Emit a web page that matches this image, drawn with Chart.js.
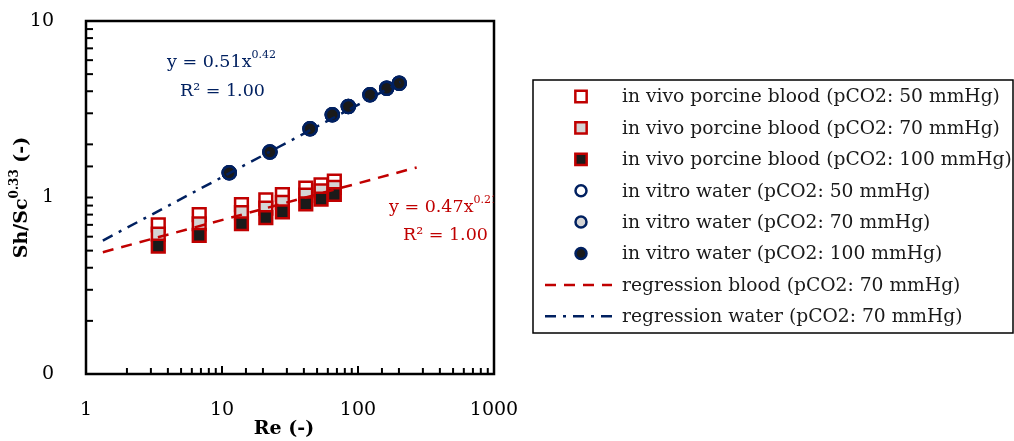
<!DOCTYPE html>
<html>
<head>
<meta charset="utf-8">
<script src="https://cdn.jsdelivr.net/npm/chart.js@4.4.1/dist/chart.umd.min.js"></script>
<style>
  html, body { margin: 0; padding: 0; background: #fff; }
  #wrap { width: 1014px; height: 441px; position: relative; }
</style>
</head>
<body>
<div id="wrap"><canvas id="chart"></canvas></div>
<script>
// Re (-) of the blood measurements
const bloodRe = [3.4, 6.8, 13.9, 21.0, 27.8, 41.3, 53.5, 67.0];
// Sh/Sc^0.33 for each pCO2
const blood50 = [0.70, 0.80, 0.91, 0.97, 1.04, 1.13, 1.18, 1.24];
const blood70 = [0.62, 0.71, 0.82, 0.87, 0.94, 1.03, 1.09, 1.14];
const blood100 = [0.53, 0.61, 0.71, 0.77, 0.83, 0.92, 0.98, 1.04];

// water measurements (the three pCO2 series overlap)
const waterRe = [11.3, 22.5, 44.4, 64.7, 84.9, 122.5, 162.5, 201];
const water50 = [1.38, 1.81, 2.45, 2.94, 3.28, 3.82, 4.16, 4.44];
const water70 = [1.38, 1.81, 2.45, 2.94, 3.28, 3.82, 4.16, 4.44];
const water100 = [1.38, 1.81, 2.45, 2.94, 3.28, 3.82, 4.16, 4.44];

// trend lines (end points)
const regBloodRe = [1.33, 270];
const regBloodY = [0.49, 1.48];
const regWaterRe = [1.33, 205];
const regWaterY = [0.57, 4.5];

// tick labels
const xTicks = [1, 10, 100, 1000];
const xTickText = ['1', '10', '100', '1000'];
const yTicks = [0.1, 1, 10];
const yTickText = ['0', '1', '10'];

const legendLabels = [
  'in vivo porcine blood (pCO2: 50 mmHg)',
  'in vivo porcine blood (pCO2: 70 mmHg)',
  'in vivo porcine blood (pCO2: 100 mmHg)',
  'in vitro water (pCO2: 50 mmHg)',
  'in vitro water (pCO2: 70 mmHg)',
  'in vitro water (pCO2: 100 mmHg)',
  'regression blood (pCO2: 70 mmHg)',
  'regression water (pCO2: 70 mmHg)'
];

const RED = '#c00000';
const NAVY = '#002060';
const SERIF = '"DejaVu Serif", serif';

const pts = (xs, ys) => xs.map((x, i) => ({ x: x, y: ys[i] }));

function marker(ys, xs, style, border, fill, order) {
  return {
    data: pts(xs, ys),
    showLine: false,
    pointStyle: style,
    pointRadius: style === 'rect' ? 9 : 6.5,
    pointBorderWidth: 2.5,
    pointBorderColor: border,
    pointBackgroundColor: fill,
    order: order
  };
}

function labelFor(list, text) {
  return (v) => {
    const i = list.findIndex(t => Math.abs(Math.log10(t) - Math.log10(v)) < 1e-6);
    return i < 0 ? '' : text[i];
  };
}

// рамка, внутрішні засічки, підписи та легенда
const decor = {
  id: 'decor',
  afterDraw(chart) {
    const ctx = chart.ctx;
    const a = chart.chartArea;
    const xs = chart.scales.x, ys = chart.scales.y;
    ctx.save();

    // inner tick marks
    ctx.strokeStyle = '#000';
    ctx.lineWidth = 2;
    xs.ticks.forEach(t => {
      const p = xs.getPixelForValue(t.value);
      const major = xTicks.some(v => Math.abs(Math.log10(v) - Math.log10(t.value)) < 1e-6);
      ctx.beginPath();
      ctx.moveTo(p, a.bottom);
      ctx.lineTo(p, a.bottom - (major ? 8 : 6));
      ctx.stroke();
    });
    ys.ticks.forEach(t => {
      const p = ys.getPixelForValue(t.value);
      ctx.beginPath();
      ctx.moveTo(a.left, p);
      ctx.lineTo(a.left + 7, p);
      ctx.stroke();
    });

    // plot frame
    ctx.lineWidth = 2.5;
    ctx.strokeRect(a.left, a.top, a.right - a.left, a.bottom - a.top);

    // axis titles
    ctx.fillStyle = '#000';
    ctx.textBaseline = 'middle';
    ctx.font = 'bold 19px ' + SERIF;
    ctx.textAlign = 'center';
    ctx.fillText('Re (-)', (a.left + a.right) / 2 - 6, 429);

    ctx.save();
    ctx.translate(22, (a.top + a.bottom) / 2);
    ctx.rotate(-Math.PI / 2);
    const p1 = 'Sh/Sc', p2 = '0.33', p3 = ' (-)';
    ctx.font = 'bold 19px ' + SERIF;
    const w1 = ctx.measureText(p1).width, w3 = ctx.measureText(p3).width;
    ctx.font = 'bold 12px ' + SERIF;
    const w2 = ctx.measureText(p2).width;
    let x0 = -(w1 + w2 + w3) / 2;
    ctx.textAlign = 'left';
    ctx.font = 'bold 19px ' + SERIF;
    ctx.fillText(p1, x0, 0);
    ctx.font = 'bold 12px ' + SERIF;
    ctx.fillText(p2, x0 + w1, -7);
    ctx.font = 'bold 19px ' + SERIF;
    ctx.fillText(p3, x0 + w1 + w2, 0);
    ctx.restore();

    // regression equations
    function eq(base, sup, x, y, color) {
      ctx.fillStyle = color;
      ctx.textAlign = 'left';
      ctx.font = '17.5px ' + SERIF;
      ctx.fillText(base, x, y);
      const w = ctx.measureText(base).width;
      ctx.font = '11px ' + SERIF;
      ctx.fillText(sup, x + w, y - 7);
    }
    ctx.save();
    ctx.beginPath();
    ctx.rect(a.left, a.top, a.right - a.left, a.bottom - a.top);
    ctx.clip();
    eq('y = 0.51x', '0.42', 167, 62, NAVY);
    eq('R\u00b2 = 1.00', '', 180, 91, NAVY);
    eq('y = 0.47x', '0.21', 389, 207, RED);
    eq('R\u00b2 = 1.00', '', 403, 235, RED);
    ctx.restore();

    // legend box
    const box = { left: 533, top: 80, right: 1013, bottom: 333 };
    ctx.lineWidth = 1.5;
    ctx.strokeStyle = '#000';
    ctx.strokeRect(box.left, box.top, box.right - box.left, box.bottom - box.top);
    ctx.font = '18.7px ' + SERIF;
    ctx.textAlign = 'left';
    const rowTop = 96.5, rowGap = 31.4;
    chart.data.datasets.forEach((ds, i) => {
      const cy = rowTop + i * rowGap;
      if (ds.showLine) {
        ctx.save();
        ctx.strokeStyle = ds.borderColor;
        ctx.lineWidth = ds.borderWidth;
        ctx.setLineDash(ds.borderDash);
        ctx.beginPath();
        ctx.moveTo(545, cy);
        ctx.lineTo(612, cy);
        ctx.stroke();
        ctx.restore();
      } else {
        ctx.save();
        ctx.strokeStyle = ds.pointBorderColor;
        ctx.fillStyle = ds.pointBackgroundColor;
        ctx.lineWidth = ds.pointBorderWidth;
        Chart.helpers.drawPoint(ctx, {
          pointStyle: ds.pointStyle,
          radius: ds.pointStyle === 'rect' ? 8 : 5.5,
          borderWidth: ds.pointBorderWidth,
          rotation: 0
        }, 581, cy);
        ctx.restore();
      }
      ctx.fillStyle = '#1a1a1a';
      ctx.fillText(legendLabels[i], 622, cy + 1);
    });
    ctx.restore();
  }
};

new Chart(document.getElementById('chart'), {
  type: 'scatter',
  data: {
    datasets: [
      marker(blood50, bloodRe, 'rect', RED, '#ffffff', 3),
      marker(blood70, bloodRe, 'rect', RED, '#d4d4d4', 2),
      marker(blood100, bloodRe, 'rect', RED, '#1a1a1a', 1),
      marker(water50, waterRe, 'circle', NAVY, '#ffffff', 3),
      marker(water70, waterRe, 'circle', NAVY, '#d4d4d4', 2),
      marker(water100, waterRe, 'circle', NAVY, '#1a1a1a', 1),
      {
        data: pts(regBloodRe, regBloodY),
        showLine: true,
        borderColor: RED,
        borderWidth: 2.5,
        borderDash: [11, 8],
        pointRadius: 0,
        order: 0
      },
      {
        data: pts(regWaterRe, regWaterY),
        showLine: true,
        borderColor: NAVY,
        borderWidth: 2.5,
        borderDash: [11, 7, 3, 7],
        pointRadius: 0,
        order: 0
      }
    ]
  },
  options: {
    responsive: true,
    maintainAspectRatio: false,
    animation: false,
    devicePixelRatio: 1,
    layout: { padding: { left: 0, top: 21, right: 520, bottom: 0 } },
    plugins: {
      legend: { display: false },
      tooltip: { enabled: false }
    },
    scales: {
      x: {
        type: 'logarithmic',
        min: 1,
        max: 1000,
        grid: { display: false },
        border: { display: false },
        ticks: {
          autoSkip: false,
          maxRotation: 0,
          minRotation: 0,
          padding: 17,
          color: '#000',
          font: { family: SERIF, size: 19 },
          callback: labelFor(xTicks, xTickText)
        },
        afterFit: (s) => { s.height = 67; s.paddingLeft = 0; s.paddingRight = 0; }
      },
      y: {
        type: 'logarithmic',
        min: 0.1,
        max: 10,
        grid: { display: false },
        border: { display: false },
        ticks: {
          autoSkip: false,
          padding: 24,
          color: '#000',
          font: { family: SERIF, size: 19 },
          callback: labelFor(yTicks, yTickText)
        },
        afterFit: (s) => { s.width = 86; s.paddingTop = 0; s.paddingBottom = 0; }
      }
    }
  },
  plugins: [decor]
});
</script>
</body>
</html>
